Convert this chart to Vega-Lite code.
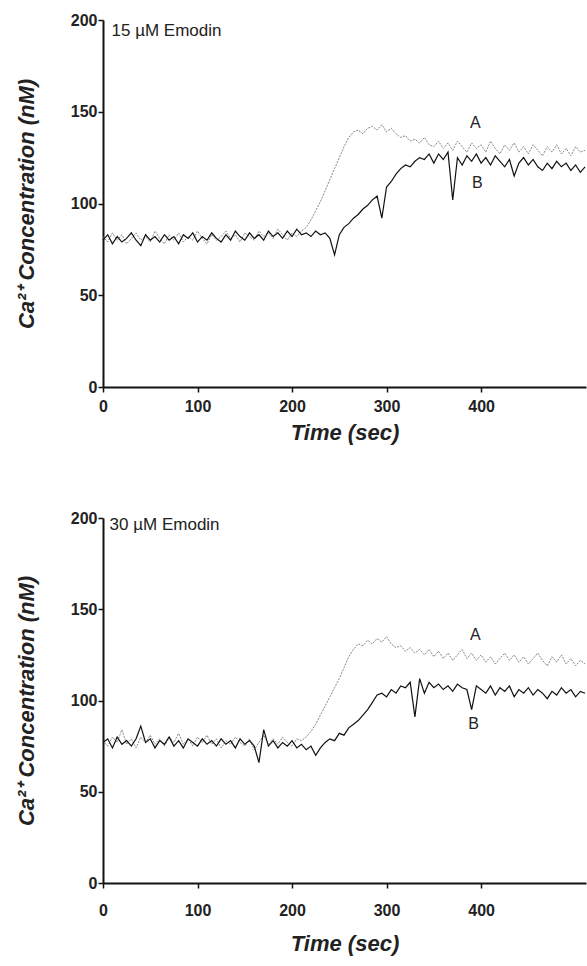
{
  "$schema": "https://vega.github.io/schema/vega-lite/v6.json",
  "padding": {"left": 15, "top": 12, "right": 0, "bottom": 5},
  "background": "white",
  "bounds": "flush",
  "spacing": 131,
  "datasets": {
    "traces": [
      {"t":0,"a1":82,"b1":80,"a2":78,"b2":77},
      {"t":5,"a1":79,"b1":83,"a2":75,"b2":79},
      {"t":10,"a1":84,"b1":78,"a2":80,"b2":74},
      {"t":15,"a1":80,"b1":82,"a2":77,"b2":80},
      {"t":20,"a1":83,"b1":79,"a2":84,"b2":76},
      {"t":25,"a1":78,"b1":81,"a2":76,"b2":78},
      {"t":30,"a1":81,"b1":84,"a2":79,"b2":75},
      {"t":35,"a1":84,"b1":80,"a2":74,"b2":79},
      {"t":40,"a1":80,"b1":77,"a2":80,"b2":86},
      {"t":45,"a1":82,"b1":83,"a2":77,"b2":77},
      {"t":50,"a1":79,"b1":80,"a2":81,"b2":79},
      {"t":55,"a1":85,"b1":82,"a2":76,"b2":74},
      {"t":60,"a1":81,"b1":79,"a2":79,"b2":78},
      {"t":65,"a1":78,"b1":83,"a2":75,"b2":76},
      {"t":70,"a1":83,"b1":80,"a2":80,"b2":80},
      {"t":75,"a1":80,"b1":82,"a2":77,"b2":75},
      {"t":80,"a1":84,"b1":78,"a2":82,"b2":78},
      {"t":85,"a1":79,"b1":83,"a2":76,"b2":74},
      {"t":90,"a1":82,"b1":81,"a2":79,"b2":79},
      {"t":95,"a1":80,"b1":84,"a2":75,"b2":77},
      {"t":100,"a1":85,"b1":79,"a2":80,"b2":75},
      {"t":105,"a1":81,"b1":82,"a2":77,"b2":79},
      {"t":110,"a1":78,"b1":80,"a2":81,"b2":76},
      {"t":115,"a1":83,"b1":84,"a2":76,"b2":78},
      {"t":120,"a1":80,"b1":81,"a2":79,"b2":75},
      {"t":125,"a1":82,"b1":79,"a2":74,"b2":79},
      {"t":130,"a1":85,"b1":83,"a2":78,"b2":76},
      {"t":135,"a1":81,"b1":80,"a2":76,"b2":78},
      {"t":140,"a1":83,"b1":85,"a2":80,"b2":74},
      {"t":145,"a1":79,"b1":82,"a2":77,"b2":79},
      {"t":150,"a1":84,"b1":80,"a2":75,"b2":76},
      {"t":155,"a1":82,"b1":84,"a2":79,"b2":78},
      {"t":160,"a1":80,"b1":81,"a2":73,"b2":75},
      {"t":165,"a1":85,"b1":83,"a2":77,"b2":66},
      {"t":170,"a1":82,"b1":80,"a2":81,"b2":84},
      {"t":175,"a1":84,"b1":85,"a2":76,"b2":75},
      {"t":180,"a1":81,"b1":82,"a2":79,"b2":78},
      {"t":185,"a1":86,"b1":84,"a2":76,"b2":74},
      {"t":190,"a1":83,"b1":81,"a2":80,"b2":77},
      {"t":195,"a1":80,"b1":85,"a2":77,"b2":75},
      {"t":200,"a1":84,"b1":82,"a2":75,"b2":78},
      {"t":205,"a1":82,"b1":86,"a2":79,"b2":74},
      {"t":210,"a1":85,"b1":83,"a2":78,"b2":76},
      {"t":215,"a1":87,"b1":84,"a2":80,"b2":73},
      {"t":220,"a1":91,"b1":82,"a2":83,"b2":75},
      {"t":225,"a1":96,"b1":85,"a2":87,"b2":70},
      {"t":230,"a1":101,"b1":83,"a2":92,"b2":74},
      {"t":235,"a1":107,"b1":84,"a2":97,"b2":77},
      {"t":240,"a1":113,"b1":81,"a2":102,"b2":79},
      {"t":245,"a1":119,"b1":72,"a2":107,"b2":78},
      {"t":250,"a1":125,"b1":83,"a2":112,"b2":82},
      {"t":255,"a1":131,"b1":87,"a2":118,"b2":81},
      {"t":260,"a1":136,"b1":89,"a2":124,"b2":85},
      {"t":265,"a1":139,"b1":92,"a2":128,"b2":87},
      {"t":270,"a1":140,"b1":94,"a2":131,"b2":89},
      {"t":275,"a1":138,"b1":97,"a2":130,"b2":92},
      {"t":280,"a1":141,"b1":99,"a2":133,"b2":95},
      {"t":285,"a1":142,"b1":102,"a2":131,"b2":99},
      {"t":290,"a1":140,"b1":104,"a2":134,"b2":103},
      {"t":295,"a1":143,"b1":92,"a2":132,"b2":104},
      {"t":300,"a1":139,"b1":109,"a2":135,"b2":102},
      {"t":305,"a1":141,"b1":112,"a2":131,"b2":106},
      {"t":310,"a1":138,"b1":116,"a2":129,"b2":104},
      {"t":315,"a1":136,"b1":119,"a2":130,"b2":108},
      {"t":320,"a1":137,"b1":121,"a2":127,"b2":107},
      {"t":325,"a1":134,"b1":120,"a2":129,"b2":110},
      {"t":330,"a1":135,"b1":123,"a2":126,"b2":91},
      {"t":335,"a1":133,"b1":125,"a2":128,"b2":112},
      {"t":340,"a1":136,"b1":124,"a2":125,"b2":104},
      {"t":345,"a1":132,"b1":127,"a2":128,"b2":110},
      {"t":350,"a1":131,"b1":122,"a2":124,"b2":107},
      {"t":355,"a1":134,"b1":127,"a2":127,"b2":109},
      {"t":360,"a1":130,"b1":124,"a2":123,"b2":106},
      {"t":365,"a1":133,"b1":128,"a2":126,"b2":108},
      {"t":370,"a1":129,"b1":102,"a2":122,"b2":105},
      {"t":375,"a1":134,"b1":125,"a2":125,"b2":109},
      {"t":380,"a1":131,"b1":121,"a2":128,"b2":107},
      {"t":385,"a1":128,"b1":126,"a2":123,"b2":106},
      {"t":390,"a1":133,"b1":123,"a2":126,"b2":95},
      {"t":395,"a1":130,"b1":127,"a2":122,"b2":108},
      {"t":400,"a1":132,"b1":122,"a2":125,"b2":106},
      {"t":405,"a1":128,"b1":125,"a2":121,"b2":104},
      {"t":410,"a1":134,"b1":121,"a2":124,"b2":108},
      {"t":415,"a1":130,"b1":126,"a2":120,"b2":103},
      {"t":420,"a1":127,"b1":123,"a2":123,"b2":107},
      {"t":425,"a1":132,"b1":120,"a2":126,"b2":105},
      {"t":430,"a1":129,"b1":124,"a2":122,"b2":108},
      {"t":435,"a1":133,"b1":115,"a2":125,"b2":102},
      {"t":440,"a1":128,"b1":122,"a2":121,"b2":106},
      {"t":445,"a1":131,"b1":125,"a2":124,"b2":104},
      {"t":450,"a1":127,"b1":121,"a2":120,"b2":107},
      {"t":455,"a1":132,"b1":124,"a2":123,"b2":103},
      {"t":460,"a1":129,"b1":120,"a2":126,"b2":106},
      {"t":465,"a1":126,"b1":118,"a2":122,"b2":104},
      {"t":470,"a1":131,"b1":122,"a2":119,"b2":101},
      {"t":475,"a1":128,"b1":119,"a2":124,"b2":105},
      {"t":480,"a1":132,"b1":123,"a2":121,"b2":103},
      {"t":485,"a1":127,"b1":120,"a2":125,"b2":107},
      {"t":490,"a1":130,"b1":122,"a2":120,"b2":104},
      {"t":495,"a1":126,"b1":118,"a2":123,"b2":106},
      {"t":500,"a1":131,"b1":121,"a2":119,"b2":102},
      {"t":505,"a1":128,"b1":117,"a2":122,"b2":105},
      {"t":510,"a1":129,"b1":120,"a2":120,"b2":104}
    ],
    "notes": [
      {"panel":1,"kind":"trace","label":"A","t":394,"c":144},
      {"panel":1,"kind":"trace","label":"B","t":396,"c":111},
      {"panel":2,"kind":"trace","label":"A","t":394,"c":136},
      {"panel":2,"kind":"trace","label":"B","t":392,"c":87},
      {"panel":1,"kind":"title","label":"15 µM Emodin","t":9,"c":194},
      {"panel":2,"kind":"title","label":"30 µM Emodin","t":7,"c":196}
    ]
  },
  "vconcat": [
    {
      "width": 483,
      "height": 367,
      "encoding": {
        "x": {"field": "t", "type": "quantitative", "title": "Time (sec)",
              "scale": {"domain": [0, 511], "nice": false, "zero": false},
              "axis": {"values": [0, 100, 200, 300, 400], "labelPadding": 6, "titlePadding": 8}}
      },
      "layer": [
        {"data": {"name": "traces"},
         "mark": {"type": "line", "color": "#777777", "strokeWidth": 0.9, "strokeDash": [2, 1.2]},
         "encoding": {"y": {"field": "a1", "type": "quantitative", "title": "Ca²⁺ Concentration (nM)", "scale": {"domain": [0, 200], "nice": false}, "axis": {"values": [0, 50, 100, 150, 200]}}}},
        {"data": {"name": "traces"},
         "mark": {"type": "line", "color": "#111111", "strokeWidth": 1.2},
         "encoding": {"y": {"field": "b1", "type": "quantitative", "title": "Ca²⁺ Concentration (nM)", "axis": {"values": [0, 50, 100, 150, 200]}}}},
        {"data": {"name": "notes"},
         "transform": [{"filter": "datum.panel == 1 && datum.kind == 'trace'"}],
         "mark": {"type": "text", "fontSize": 16, "align": "center", "baseline": "middle", "color": "#222", "font": "Liberation Sans"},
         "encoding": {"y": {"field": "c", "type": "quantitative", "title": "Ca²⁺ Concentration (nM)", "axis": {"values": [0, 50, 100, 150, 200]}}, "text": {"field": "label"}}},
        {"data": {"name": "notes"},
         "transform": [{"filter": "datum.panel == 1 && datum.kind == 'title'"}],
         "mark": {"type": "text", "fontSize": 17, "align": "left", "baseline": "middle", "color": "#222", "font": "Liberation Sans"},
         "encoding": {"y": {"field": "c", "type": "quantitative", "title": "Ca²⁺ Concentration (nM)", "axis": {"values": [0, 50, 100, 150, 200]}}, "text": {"field": "label"}}}
      ]
    },
    {
      "width": 483,
      "height": 365,
      "encoding": {
        "x": {"field": "t", "type": "quantitative", "title": "Time (sec)",
              "scale": {"domain": [0, 511], "nice": false, "zero": false},
              "axis": {"values": [0, 100, 200, 300, 400], "labelPadding": 14, "titlePadding": 15}}
      },
      "layer": [
        {"data": {"name": "traces"},
         "mark": {"type": "line", "color": "#777777", "strokeWidth": 0.9, "strokeDash": [2, 1.2]},
         "encoding": {"y": {"field": "a2", "type": "quantitative", "title": "Ca²⁺ Concentration (nM)", "scale": {"domain": [0, 200], "nice": false}, "axis": {"values": [0, 50, 100, 150, 200]}}}},
        {"data": {"name": "traces"},
         "mark": {"type": "line", "color": "#111111", "strokeWidth": 1.2},
         "encoding": {"y": {"field": "b2", "type": "quantitative", "title": "Ca²⁺ Concentration (nM)", "axis": {"values": [0, 50, 100, 150, 200]}}}},
        {"data": {"name": "notes"},
         "transform": [{"filter": "datum.panel == 2 && datum.kind == 'trace'"}],
         "mark": {"type": "text", "fontSize": 16, "align": "center", "baseline": "middle", "color": "#222", "font": "Liberation Sans"},
         "encoding": {"y": {"field": "c", "type": "quantitative", "title": "Ca²⁺ Concentration (nM)", "axis": {"values": [0, 50, 100, 150, 200]}}, "text": {"field": "label"}}},
        {"data": {"name": "notes"},
         "transform": [{"filter": "datum.panel == 2 && datum.kind == 'title'"}],
         "mark": {"type": "text", "fontSize": 17, "align": "left", "baseline": "middle", "color": "#222", "font": "Liberation Sans"},
         "encoding": {"y": {"field": "c", "type": "quantitative", "title": "Ca²⁺ Concentration (nM)", "axis": {"values": [0, 50, 100, 150, 200]}}, "text": {"field": "label"}}}
      ]
    }
  ],
  "config": {
    "view": {"stroke": null},
    "font": "Liberation Sans",
    "axis": {
      "grid": false,
      "domainColor": "#111",
      "domainWidth": 2,
      "tickColor": "#111",
      "tickWidth": 1.5,
      "tickSize": 5,
      "labelFont": "Liberation Sans",
      "labelFontWeight": "bold",
      "labelFontSize": 16,
      "labelColor": "#222",
      "labelFlush": false,
      "labelOverlap": false,
      "titleFont": "Liberation Sans",
      "titleFontWeight": "bold",
      "titleFontStyle": "italic",
      "titleFontSize": 22,
      "titleColor": "#222"
    },
    "axisY": {"labelPadding": 1, "titlePadding": 32}
  }
}
